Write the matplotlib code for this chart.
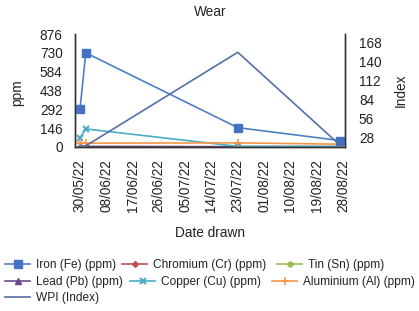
import matplotlib
matplotlib.use("Agg")
import matplotlib.pyplot as plt
import matplotlib.dates as mdates
import numpy as np
import pandas as pd

plt.rcParams['font.family'] = ['Liberation Sans', 'DejaVu Sans']

dates = pd.to_datetime(["2022-05-30", "2022-06-01", "2022-07-23", "2022-08-27"])
iron = [292, 730, 150, 50]
chromium = [3, 3, 2, 2]
tin = [2, 2, 1, 1]
lead = [4, 4, 2, 2]
copper = [70, 140, 5, 5]
aluminium = [30, 30, 32, 22]
wpi = [14, 15, 153, 16]

tick_dates = pd.date_range("2022-05-30", "2022-08-28", freq="9D")
ppm_ticks = [0, 146, 292, 438, 584, 730, 876]
index_ticks = [28, 56, 84, 112, 140, 168]

W, H = 419, 311
fig = plt.figure(figsize=(W / 100, H / 100), dpi=100)
ax = fig.add_axes([75 / W, 1 - 147 / H, 270 / W, 113 / H])
ax2 = ax.twinx()

ms = 5.5
h_fe, = ax.plot(dates, iron, color='#4f7fc4', lw=1.2, marker='s', ms=ms,
                mfc='#4472C4', mec='#4472C4', label='Iron (Fe) (ppm)', zorder=5)
h_cr, = ax.plot(dates, chromium, color='#C0504D', lw=1.2, marker='D', ms=3,
                label='Chromium (Cr) (ppm)')
h_sn, = ax.plot(dates, tin, color='#9BBB59', lw=1.2, marker='o', ms=3.5,
                label='Tin (Sn) (ppm)')
h_pb, = ax.plot(dates, lead, color='#6b4a8e', lw=1.2, marker='^', ms=4,
                label='Lead (Pb) (ppm)')
h_cu, = ax.plot(dates, copper, color='#4BACC6', lw=1.2, marker='x', ms=5,
                mew=1.5, label='Copper (Cu) (ppm)')
h_al, = ax.plot(dates, aluminium, color='#F79646', lw=1.2, marker='+', ms=6,
                mew=1.2, label='Aluminium (Al) (ppm)')
h_wpi, = ax2.plot(dates, wpi, color='#5470a8', lw=1.2, label='WPI (Index)')

ax.set_xlim(pd.Timestamp("2022-05-30") - pd.Timedelta(days=1.7),
            pd.Timestamp("2022-08-28") + pd.Timedelta(days=0.7))
ax.set_ylim(0, 876)
ax.set_yticks(ppm_ticks)
ax2.set_ylim(13.3, 180)
ax2.set_yticks(index_ticks)
ax.set_xticks(tick_dates)
ax.xaxis.set_major_formatter(mdates.DateFormatter('%d/%m/%y'))
for lab in ax.get_xticklabels():
    lab.set_rotation(90)

fs = 9.8
ax.tick_params(axis='y', length=0, pad=9, labelsize=fs, colors='#222222')
ax.tick_params(axis='x', length=0, pad=9, labelsize=fs, colors='#222222')
ax2.tick_params(axis='y', length=0, pad=10, labelsize=fs, colors='#222222')

for a in (ax, ax2):
    a.spines['top'].set_visible(False)
    for s in ('left', 'right', 'bottom'):
        a.spines[s].set_color('#333333')
        a.spines[s].set_linewidth(1.0)

fig.text(210 / W, 1 - 12 / H, 'Wear', ha='center', va='center', fontsize=fs, color='#222222')
fig.text(17 / W, 1 - 93 / H, 'ppm', ha='center', va='center', rotation=90, fontsize=fs, color='#222222')
fig.text(401 / W, 1 - 90 / H, 'Index', ha='center', va='center', rotation=90, fontsize=fs, color='#222222')
fig.text(210 / W, 1 - 233 / H, 'Date drawn', ha='center', va='center', fontsize=fs, color='#222222')

leg_kw = dict(frameon=False, fontsize=8.6, handlelength=2.1, handletextpad=0.5,
              borderpad=0, borderaxespad=0, labelcolor='#222222', loc='center left')
legend_pos = [(h_fe, 5, 265), (h_cr, 122, 265), (h_sn, 277, 265),
              (h_pb, 5, 282), (h_cu, 130, 282), (h_al, 272, 282),
              (h_wpi, 5, 298)]
for h, x, y in legend_pos:
    fig.legend(handles=[h], bbox_to_anchor=(x / W, 1 - y / H), **leg_kw)

fig.savefig('out.png', dpi=100)
